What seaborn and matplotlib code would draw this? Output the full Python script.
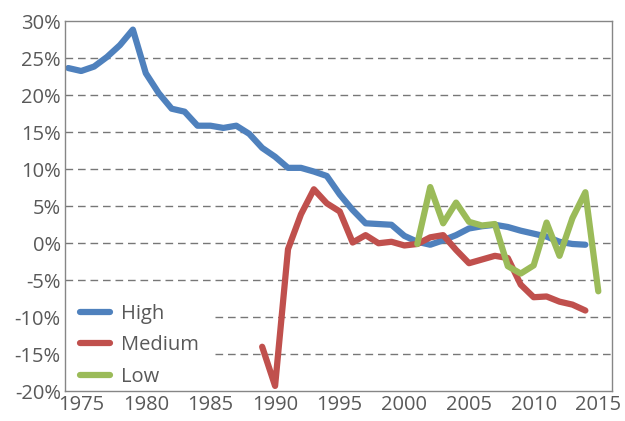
import pandas as pd
import numpy as np
import seaborn as sns
import matplotlib.pyplot as plt
from matplotlib.ticker import FuncFormatter

#%% data (percent)

years_high = list(range(1974, 2015))
high = [23.7, 23.3, 23.9, 25.2, 26.8, 28.9, 23.0, 20.3, 18.2, 17.8,
        15.9, 15.9, 15.6, 15.9, 14.8, 12.9, 11.7, 10.2, 10.2, 9.7,
        9.1, 6.6, 4.5, 2.7, 2.6, 2.5, 1.0, 0.2, -0.2, 0.4,
        1.1, 2.0, 2.3, 2.5, 2.2, 1.7, 1.3, 0.9, 0.2, -0.1, -0.2]

years_medium = list(range(1989, 2015))
medium = [-14.0, -19.3, -0.8, 3.9, 7.3, 5.4, 4.3, 0.1, 1.1, 0.0,
          0.2, -0.3, -0.1, 0.8, 1.1, -0.9, -2.7, -2.2, -1.7, -2.0,
          -5.6, -7.3, -7.2, -7.9, -8.3, -9.1]

years_low = list(range(2001, 2016))
low = [-0.1, 7.6, 2.7, 5.5, 2.9, 2.4, 2.6, -3.1, -4.1, -3.0,
       2.8, -1.7, 3.4, 6.9, -6.5]

series = ['High', 'Medium', 'Low']
colors = ['#4F81BD', '#C0504D', '#9BBB59']
xticks = list(range(1975, 2016, 5))
yticks = list(range(-20, 31, 5))

df = pd.concat([
    pd.DataFrame({'year': years_high, 'value': high, 'series': 'High'}),
    pd.DataFrame({'year': years_medium, 'value': medium, 'series': 'Medium'}),
    pd.DataFrame({'year': years_low, 'value': low, 'series': 'Low'}),
])

#%% plot

sns.set_style('white')
plt.rcParams['font.family'] = ['Open Sans', 'DejaVu Sans']

fig = plt.figure(figsize=(6.25, 4.21), dpi=100)
ax = fig.add_axes([0.104, 0.071, 0.875, 0.878])

sns.lineplot(data=df, x='year', y='value', hue='series', hue_order=series,
             palette=colors, linewidth=4.5, ax=ax, solid_joinstyle='round',
             solid_capstyle='round')

ax.set_xlim(1973.75, 2016.05)
ax.set_ylim(-20, 30)
ax.set_xticks(xticks)
ax.set_yticks(yticks)
ax.yaxis.set_major_formatter(FuncFormatter(lambda v, p: '%d%%' % v))
ax.set_xlabel('')
ax.set_ylabel('')
ax.tick_params(length=0, labelsize=14.5, labelcolor='#595959', pad=3)
# tick labels above the legend box
ax.set_axisbelow(False)

# dashed gridlines drawn by hand so the legend box can hide them
for yv in yticks[1:-1]:
    ax.axhline(yv, linestyle=(0, (5.5, 3.5)), color='#777777', linewidth=1,
               zorder=0.8)
for s in ax.spines.values():
    s.set_color('#868686')
    s.set_linewidth(1)

leg = ax.legend(loc='lower left', bbox_to_anchor=(0, -0.03), fontsize=14.5,
                frameon=True, fancybox=False, handlelength=1.5,
                handletextpad=0.55, labelspacing=0.58, borderaxespad=0,
                borderpad=0.75)
leg.get_frame().set_facecolor('white')
leg.get_frame().set_edgecolor('none')
leg.get_frame().set_alpha(1)
leg.set_zorder(1)
for t in leg.get_texts():
    t.set_color('#595959')
for h in leg.get_lines():
    h.set_linewidth(4.5)

fig.savefig('out.png', dpi=100)
